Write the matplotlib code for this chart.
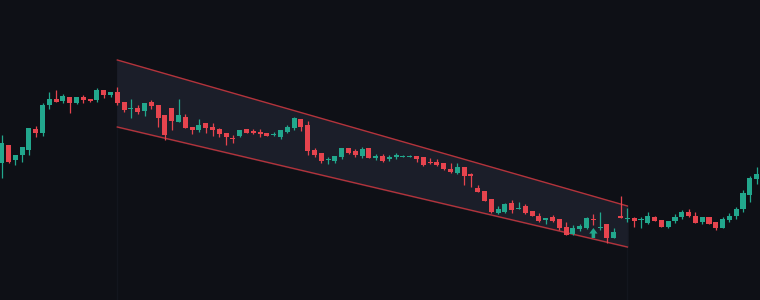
import numpy as np
import matplotlib
matplotlib.use('Agg')
from matplotlib import pyplot as plt

#####################################
# Data (price units, one candle per bar)
opens = [137, 155, 140, 145, 150, 171, 167, 195, 201, 199, 203, 197, 203, 201, 200, 210, 205,
         208, 198, 191, 192, 189, 198, 195, 185, 192, 178, 183, 173, 170, 177, 173, 171, 167,
         162, 164, 171, 169, 168, 167, 165, 163, 168, 172, 181, 175, 150, 147, 140, 139, 143,
         152, 149, 144, 152, 142, 144, 141, 143, 143, 143, 144, 143, 138, 138, 137, 131, 127,
         133, 126, 112, 109, 101, 87, 88, 97, 91, 94, 89, 84, 80, 83, 81, 73, 66, 71, 72, 81,
         72, 76, 62, 84, 81, 82, 80, 77, 83, 80, 73, 79, 83, 88, 84, 78, 83, 78, 72, 80, 84,
         91, 105, 121]
closes = [157, 138, 145, 153, 172, 167, 195, 201, 198, 204, 197, 203, 200, 199, 210, 205, 208,
          197, 190, 192, 188, 197, 194, 182, 165, 179, 185, 172, 170, 175, 172, 170, 166, 163,
          161, 170, 167, 167, 166, 164, 166, 170, 173, 182, 173, 149, 145, 139, 141, 144, 152,
          147, 145, 151, 142, 144, 139, 143, 145, 144, 144, 141, 135, 137, 135, 131, 128, 133,
          124, 124, 108, 99, 88, 91, 96, 90, 92, 87, 84, 79, 82, 79, 72, 65, 72, 74, 82, 80, 72,
          62, 68, 82, 82, 79, 81, 84, 79, 73, 79, 83, 88, 84, 77, 83, 76, 72, 81, 84, 91, 107,
          122, 126]
highs = [165, 155, 145, 153, 172, 174, 197, 208, 210, 206, 203, 203, 205, 201, 212, 210, 208,
         213, 198, 201, 195, 197, 200, 195, 185, 192, 201, 186, 173, 181, 177, 177, 172, 167,
         165, 170, 171, 171, 171, 167, 168, 170, 175, 183, 181, 179, 152, 147, 143, 144, 152,
         152, 151, 153, 152, 146, 146, 145, 147, 145, 145, 144, 143, 142, 141, 137, 137, 137,
         133, 127, 115, 109, 101, 94, 97, 100, 98, 96, 89, 87, 82, 85, 81, 78, 75, 76, 83, 86,
         88, 76, 72, 104, 92, 83, 83, 88, 84, 80, 79, 86, 90, 91, 88, 83, 83, 78, 83, 87, 93,
         110, 124, 133]
lows = [122, 137, 135, 138, 145, 163, 164, 191, 198, 197, 187, 196, 197, 198, 198, 202, 203,
        195, 188, 182, 186, 184, 191, 173, 160, 170, 178, 172, 166, 168, 167, 164, 163, 155,
        157, 163, 167, 166, 163, 164, 164, 161, 167, 170, 169, 145, 143, 137, 136, 137, 141,
        146, 143, 142, 142, 140, 138, 139, 141, 143, 143, 138, 134, 136, 134, 130, 127, 126,
        115, 113, 108, 99, 87, 86, 87, 87, 91, 86, 84, 78, 76, 78, 70, 65, 65, 69, 71, 75, 70,
        57, 62, 82, 78, 73, 72, 76, 79, 73, 72, 77, 81, 83, 77, 76, 76, 70, 72, 78, 81, 88,
        98, 116]

# channel drawn between these candles (upper / lower trend lines)
chan_start, chan_end = 17, 92
upper_line = [240, 94]
lower_line = [173, 53]
signal_bar = 87
#####################################


#####################################
# Figure
bg = '#0e1016'
up_col = '#22a78d'
down_col = '#e6444e'
fig = plt.figure(figsize=(7.6, 3.0), dpi=100)
fig.set_facecolor(bg)
ax = fig.add_axes([0, 0, 1, 1])
ax.set_facecolor(bg)
ax.set_xlim(-0.25, 111.5)
ax.set_ylim(0, 300)
ax.axis('off')
#####################################


#####################################
# Channel
cx = [chan_start, chan_end]
ax.fill_between(cx, lower_line, upper_line, color='#1b1e29', zorder=1)
ax.plot(cx, upper_line, color='#b3333b', lw=1.0, zorder=2)
ax.plot(cx, lower_line, color='#b3333b', lw=1.0, zorder=2)
ax.vlines([chan_start, chan_end], 0, [lower_line[0], lower_line[1]],
          color='#13161e', lw=1.0, zorder=0.5)
#####################################


#####################################
# Candles
x = np.arange(len(opens))
o = np.array(opens, dtype=float)
c = np.array(closes, dtype=float)
cols = [up_col if cc >= oo else down_col for oo, cc in zip(o, c)]
ax.vlines(x, lows, highs, color=cols, lw=0.9, zorder=3)
body = c - o
body = np.where(np.abs(body) < 1.2, np.where(body >= 0, 1.2, -1.2), body)
ax.bar(x, body, bottom=o, width=0.74, color=cols, zorder=4, linewidth=0)

# buy signal arrow
ax.annotate('', xy=(signal_bar, lows[signal_bar] - 3), xytext=(signal_bar, lows[signal_bar] - 13),
            arrowprops=dict(arrowstyle='simple,head_length=0.5,head_width=0.75,tail_width=0.32',
                            color=up_col, lw=0, mutation_scale=8, shrinkA=0, shrinkB=0),
            zorder=5)
#####################################

fig.savefig('out.png', dpi=100, facecolor=bg)
